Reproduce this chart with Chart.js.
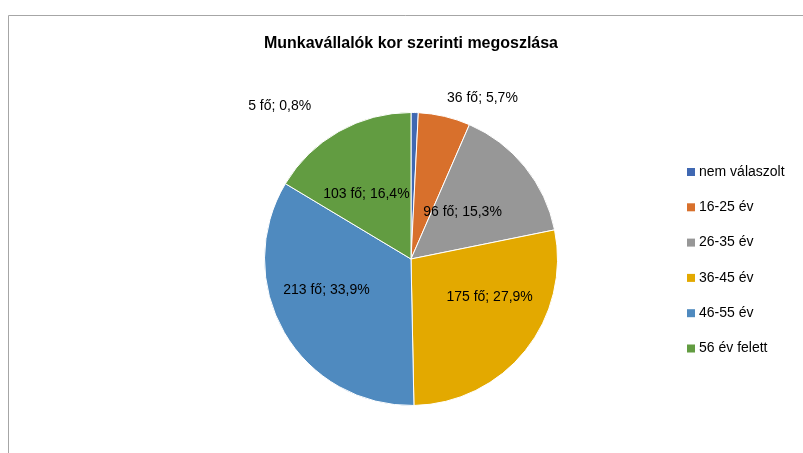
<!DOCTYPE html>
<html>
<head>
<meta charset="utf-8">
<script src="https://cdn.jsdelivr.net/npm/chart.js@4/dist/chart.umd.min.js"></script>
<style>
  html, body { margin: 0; padding: 0; background: #fff; }
  #wrap { width: 803px; height: 453px; }
</style>
</head>
<body>
<div id="wrap"><canvas id="pie" width="803" height="453"></canvas></div>
<script>
const categories = ['nem válaszolt', '16-25 év', '26-35 év', '36-45 év', '46-55 év', '56 év felett'];
const counts = [5, 36, 96, 175, 213, 103];
const percents = ['0,8%', '5,7%', '15,3%', '27,9%', '33,9%', '16,4%'];
const colors = ['#4068B2', '#D8702C', '#979797', '#E3A900', '#4F8ABF', '#629C41'];

const FONT = '"Liberation Sans", Arial, sans-serif';

// where each data label sits: fraction of radius along the mid angle, plus a nudge
const labelPlace = [
    { f: 1.0, dx: -135, dy: -6 },
    { f: 1.0, dx: 38, dy: -18 },
    { f: 0.47, dx: -2, dy: -4 },
    { f: 0.6, dx: 10, dy: -17 },
    { f: 0.62, dx: -6, dy: -14 },
    { f: 0.535, dx: -6, dy: 3 }
];

const framePlugin = {
    id: 'frame',
    beforeDraw(chart) {
        const ctx = chart.ctx;
        ctx.save();
        ctx.strokeStyle = '#a6a6a6';
        ctx.lineWidth = 1;
        ctx.beginPath();
        ctx.moveTo(8.5, 453);
        ctx.lineTo(8.5, 15.5);
        ctx.lineTo(803, 15.5);
        ctx.stroke();
        ctx.restore();
    }
};

const labelPlugin = {
    id: 'sliceLabels',
    afterDatasetsDraw(chart) {
        const ctx = chart.ctx;
        const meta = chart.getDatasetMeta(0);
        ctx.save();
        ctx.font = '14px ' + FONT;
        ctx.fillStyle = '#000';
        ctx.textAlign = 'center';
        ctx.textBaseline = 'middle';
        meta.data.forEach((arc, i) => {
            const p = arc.getProps(['x', 'y', 'startAngle', 'endAngle', 'outerRadius'], true);
            const mid = (p.startAngle + p.endAngle) / 2;
            const pl = labelPlace[i];
            const x = p.x + Math.cos(mid) * p.outerRadius * pl.f + pl.dx;
            const y = p.y + Math.sin(mid) * p.outerRadius * pl.f + pl.dy;
            ctx.fillText(counts[i] + ' fő; ' + percents[i], x, y);
        });
        ctx.restore();
    }
};

const legendPlugin = {
    id: 'sideLegend',
    afterDraw(chart) {
        const ctx = chart.ctx;
        ctx.save();
        ctx.font = '14px ' + FONT;
        ctx.textBaseline = 'middle';
        ctx.textAlign = 'left';
        categories.forEach((c, i) => {
            const y = 172 + i * 35.3;
            ctx.fillStyle = colors[i];
            ctx.fillRect(687, y - 4, 8, 8);
            ctx.fillStyle = '#000';
            ctx.fillText(c, 699, y);
        });
        ctx.restore();
    }
};

new Chart(document.getElementById('pie'), {
    type: 'pie',
    data: {
        labels: categories,
        datasets: [{
            data: counts,
            backgroundColor: colors,
            borderColor: '#fff',
            borderWidth: 1
        }]
    },
    options: {
        responsive: false,
        animation: false,
        layout: { padding: { top: 0, left: 264, right: 245, bottom: 47 } },
        plugins: {
            legend: { display: false },
            tooltip: { enabled: false },
            title: {
                display: true,
                text: 'Munkavállalók kor szerinti megoszlása',
                color: '#000',
                font: { family: FONT, size: 16, weight: 'bold', lineHeight: 1.2 },
                padding: { top: 34, bottom: 58.8 }
            }
        }
    },
    plugins: [framePlugin, labelPlugin, legendPlugin]
});
</script>
</body>
</html>
